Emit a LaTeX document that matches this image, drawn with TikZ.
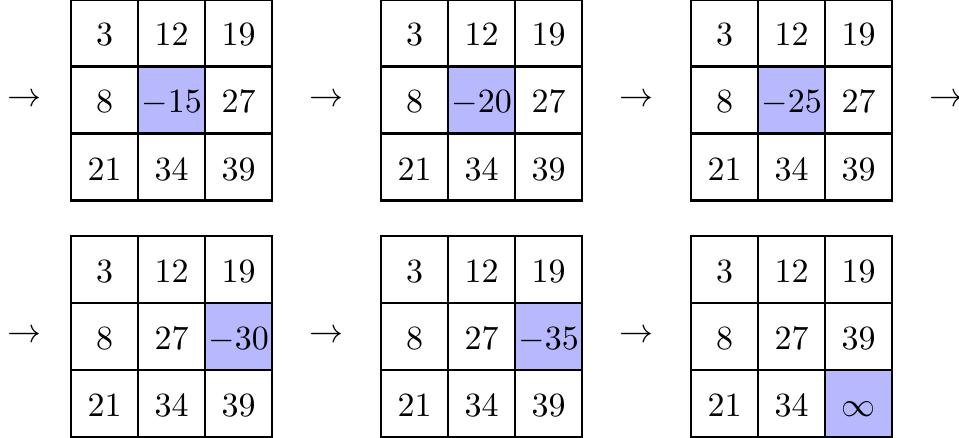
\documentclass[tikz,border=0pt]{standalone}
\usepackage{amsmath}
\usepackage{xcolor}
\usepackage{tikz}
\usetikzlibrary{matrix, positioning}

\begin{document}
\begin{tikzpicture}[
      cell/.style={draw, line width=0.4pt, minimum size=0.68cm, inner sep=0pt, outer sep=0pt,
        anchor=center, text height=7.6pt, text depth=0pt},
      hl/.style={fill=blue!28},
      numgrid/.style={matrix of math nodes, nodes={cell}, inner sep=0pt, outer sep=0pt, column sep=0pt, row sep=0pt},
      gridframe/.style={line width=0.75pt},
      arr/.style={inner sep=0pt}
    ]
      \useasboundingbox (0,0) rectangle (9.927,-4.534);

      % first row
      \node[arr] (a1) at (0.254,-1.036) {$\rightarrow$};
      \matrix[numgrid] (m1) at (1.776,-1.036) {
        3 & 12 & 19 \\
        8 & |[hl]| -15 & 27 \\
        21 & 34 & 39 \\
      };
      \node[arr] (a2) at (3.375,-1.036) {$\rightarrow$};
      \matrix[numgrid] (m2) at (4.985,-1.036) {
        3 & 12 & 19 \\
        8 & |[hl]| -20 & 27 \\
        21 & 34 & 39 \\
      };
      \node[arr] (a3) at (6.584,-1.036) {$\rightarrow$};
      \matrix[numgrid] (m3) at (8.194,-1.036) {
        3 & 12 & 19 \\
        8 & |[hl]| -25 & 27 \\
        21 & 34 & 39 \\
      };
      \node[arr] (a4) at (9.80,-1.036) {$\rightarrow$};

      % second row
      \node[arr] (a5) at (0.254,-3.484) {$\rightarrow$};
      \matrix[numgrid] (m4) at (1.776,-3.484) {
        3 & 12 & 19 \\
        8 & 27 & |[hl]| -30 \\
        21 & 34 & 39 \\
      };
      \node[arr] (a6) at (3.375,-3.484) {$\rightarrow$};
      \matrix[numgrid] (m5) at (4.985,-3.484) {
        3 & 12 & 19 \\
        8 & 27 & |[hl]| -35 \\
        21 & 34 & 39 \\
      };
      \node[arr] (a7) at (6.584,-3.484) {$\rightarrow$};
      \matrix[numgrid] (m6) at (8.194,-3.484) {
        3 & 12 & 19 \\
        8 & 27 & 39 \\
        21 & 34 & |[hl]| \infty \\
      };

      \foreach \m in {m1,m2,m3,m4,m5,m6}
        \draw[gridframe] (\m.north west) rectangle (\m.south east);
    \end{tikzpicture}
\end{document}
